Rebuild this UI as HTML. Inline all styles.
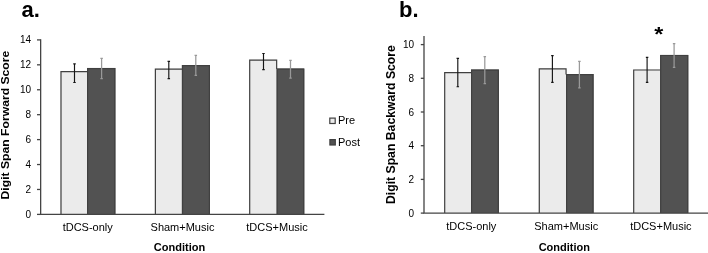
<!DOCTYPE html>
<html lang="en"><head><meta charset="utf-8"><title>Digit Span Scores</title>
<style>
html,body{margin:0;padding:0;background:#fff;}
svg{display:block;}
text{font-family:"Liberation Sans",Arial,sans-serif;fill:#000;}
.b{font-weight:bold;}
</style></head><body>
<svg width="708" height="253" viewBox="0 0 708 253">
<rect width="708" height="253" fill="#fff"/>
<rect x="60.30" y="71.00" width="26.90" height="143.40" fill="#ebebeb"/>
<path d="M61.00 214.40V71.70H87.20" fill="none" stroke="#404040" stroke-width="1.2"/>
<rect x="87.00" y="67.95" width="28.40" height="146.45" fill="#525252"/>
<path d="M87.60 214.40V68.55H114.80V214.40" fill="none" stroke="#404040" stroke-width="1.2"/>
<path d="M74.5 63.9V82.5M73.25 63.9H75.75M73.25 82.5H75.75" stroke="#151515" stroke-width="1.15" fill="none"/>
<path d="M101.6 58.3V78.6M100.35 58.3H102.85M100.35 78.6H102.85" stroke="#999" stroke-width="1.25" fill="none"/>
<rect x="154.70" y="68.50" width="27.40" height="145.90" fill="#ebebeb"/>
<path d="M155.40 214.40V69.20H182.10" fill="none" stroke="#404040" stroke-width="1.2"/>
<rect x="181.90" y="65.00" width="28.10" height="149.40" fill="#525252"/>
<path d="M182.50 214.40V65.60H209.40V214.40" fill="none" stroke="#404040" stroke-width="1.2"/>
<path d="M168.8 61.3V78.6M167.55 61.3H170.05M167.55 78.6H170.05" stroke="#151515" stroke-width="1.15" fill="none"/>
<path d="M195.8 55.4V75.4M194.55 55.4H197.05M194.55 75.4H197.05" stroke="#999" stroke-width="1.25" fill="none"/>
<rect x="249.00" y="59.50" width="27.80" height="154.90" fill="#ebebeb"/>
<path d="M249.70 214.40V60.20H276.65V69.00" fill="none" stroke="#404040" stroke-width="1.2"/>
<rect x="276.60" y="68.50" width="27.70" height="145.90" fill="#525252"/>
<path d="M277.20 214.40V69.10H303.70V214.40" fill="none" stroke="#404040" stroke-width="1.2"/>
<path d="M263.5 53.5V69.6M262.25 53.5H264.75M262.25 69.6H264.75" stroke="#151515" stroke-width="1.15" fill="none"/>
<path d="M290.5 60.4V78.2M289.25 60.4H291.75M289.25 78.2H291.75" stroke="#999" stroke-width="1.25" fill="none"/>
<path d="M40.65 39.2V214.4H324.4" stroke="#444" stroke-width="1.3" fill="none"/>
<path d="M37 214.40H40.65" stroke="#444" stroke-width="1.3"/>
<text x="31.0" y="217.90" font-size="10" text-anchor="end">0</text>
<path d="M37 189.47H40.65" stroke="#444" stroke-width="1.3"/>
<text x="31.0" y="192.97" font-size="10" text-anchor="end">2</text>
<path d="M37 164.54H40.65" stroke="#444" stroke-width="1.3"/>
<text x="31.0" y="168.04" font-size="10" text-anchor="end">4</text>
<path d="M37 139.61H40.65" stroke="#444" stroke-width="1.3"/>
<text x="31.0" y="143.11" font-size="10" text-anchor="end">6</text>
<path d="M37 114.69H40.65" stroke="#444" stroke-width="1.3"/>
<text x="31.0" y="118.19" font-size="10" text-anchor="end">8</text>
<path d="M37 89.76H40.65" stroke="#444" stroke-width="1.3"/>
<text x="31.0" y="93.26" font-size="10" text-anchor="end">10</text>
<path d="M37 64.83H40.65" stroke="#444" stroke-width="1.3"/>
<text x="31.0" y="68.33" font-size="10" text-anchor="end">12</text>
<path d="M37 39.90H40.65" stroke="#444" stroke-width="1.3"/>
<text x="31.0" y="43.40" font-size="10" text-anchor="end">14</text>
<text x="87.7" y="231" font-size="11" text-anchor="middle">tDCS-only</text>
<text x="182.5" y="231" font-size="11" text-anchor="middle">Sham+Music</text>
<text x="277" y="231" font-size="11" text-anchor="middle">tDCS+Music</text>
<text class="b" x="179.5" y="251.2" font-size="11" text-anchor="middle">Condition</text>
<text class="b" transform="translate(9.1,125.1) rotate(-90) scale(1.1065,1)" font-size="11" text-anchor="middle">Digit Span Forward Score</text>
<text class="b" x="21.4" y="17.4" font-size="22">a.</text>
<rect x="329.8" y="118.1" width="5.4" height="5.4" fill="#ebebeb" stroke="#404040" stroke-width="1.2"/>
<text x="338" y="123.9" font-size="11">Pre</text>
<rect x="329.9" y="139.6" width="5.4" height="5.4" fill="#525252" stroke="#404040" stroke-width="1.2"/>
<text x="338" y="146.3" font-size="11">Post</text>
<rect x="444.00" y="72.00" width="27.20" height="141.10" fill="#ebebeb"/>
<path d="M444.70 213.10V72.70H471.20" fill="none" stroke="#404040" stroke-width="1.2"/>
<rect x="471.00" y="69.50" width="27.90" height="143.60" fill="#525252"/>
<path d="M471.60 213.10V70.10H498.30V213.10" fill="none" stroke="#404040" stroke-width="1.2"/>
<path d="M457.8 58.3V86.7M456.55 58.3H459.05M456.55 86.7H459.05" stroke="#151515" stroke-width="1.15" fill="none"/>
<path d="M484.8 56.7V83.6M483.55 56.7H486.05M483.55 83.6H486.05" stroke="#999" stroke-width="1.25" fill="none"/>
<rect x="538.60" y="68.20" width="27.60" height="144.90" fill="#ebebeb"/>
<path d="M539.30 213.10V68.90H566.05V74.50" fill="none" stroke="#404040" stroke-width="1.2"/>
<rect x="566.00" y="74.00" width="27.60" height="139.10" fill="#525252"/>
<path d="M566.60 213.10V74.60H593.00V213.10" fill="none" stroke="#404040" stroke-width="1.2"/>
<path d="M552.4 55.6V82.3M551.15 55.6H553.65M551.15 82.3H553.65" stroke="#151515" stroke-width="1.15" fill="none"/>
<path d="M579.4 61.3V87.8M578.15 61.3H580.65M578.15 87.8H580.65" stroke="#999" stroke-width="1.25" fill="none"/>
<rect x="633.00" y="69.30" width="27.30" height="143.80" fill="#ebebeb"/>
<path d="M633.70 213.10V70.00H660.30" fill="none" stroke="#404040" stroke-width="1.2"/>
<rect x="660.10" y="54.90" width="28.20" height="158.20" fill="#525252"/>
<path d="M660.70 213.10V55.50H687.70V213.10" fill="none" stroke="#404040" stroke-width="1.2"/>
<path d="M647.1 57.3V82.3M645.85 57.3H648.35M645.85 82.3H648.35" stroke="#151515" stroke-width="1.15" fill="none"/>
<path d="M674.1 43.7V67.4M672.85 43.7H675.35M672.85 67.4H675.35" stroke="#999" stroke-width="1.25" fill="none"/>
<path d="M424.0 35.9V213.1H708" stroke="#444" stroke-width="1.3" fill="none"/>
<path d="M420.8 213.10H424.0" stroke="#444" stroke-width="1.3"/>
<text x="414.1" y="216.60" font-size="10" text-anchor="end">0</text>
<path d="M420.8 179.40H424.0" stroke="#444" stroke-width="1.3"/>
<text x="414.1" y="182.90" font-size="10" text-anchor="end">2</text>
<path d="M420.8 145.70H424.0" stroke="#444" stroke-width="1.3"/>
<text x="414.1" y="149.20" font-size="10" text-anchor="end">4</text>
<path d="M420.8 112.00H424.0" stroke="#444" stroke-width="1.3"/>
<text x="414.1" y="115.50" font-size="10" text-anchor="end">6</text>
<path d="M420.8 78.30H424.0" stroke="#444" stroke-width="1.3"/>
<text x="414.1" y="81.80" font-size="10" text-anchor="end">8</text>
<path d="M420.8 44.60H424.0" stroke="#444" stroke-width="1.3"/>
<text x="414.1" y="48.10" font-size="10" text-anchor="end">10</text>
<text x="471.3" y="230.4" font-size="11" text-anchor="middle">tDCS-only</text>
<text x="566.2" y="230.4" font-size="11" text-anchor="middle">Sham+Music</text>
<text x="660.9" y="230.4" font-size="11" text-anchor="middle">tDCS+Music</text>
<text class="b" x="564.3" y="251.2" font-size="11" text-anchor="middle">Condition</text>
<text class="b" transform="translate(394.5,124.6) rotate(-90) scale(1.0185,1)" font-size="12" text-anchor="middle">Digit Span Backward Score</text>
<text class="b" x="399" y="17.2" font-size="22">b.</text>
<text class="b" transform="translate(654.2,41.2) scale(0.97,0.88)" font-size="24">*</text>
</svg>
</body></html>
